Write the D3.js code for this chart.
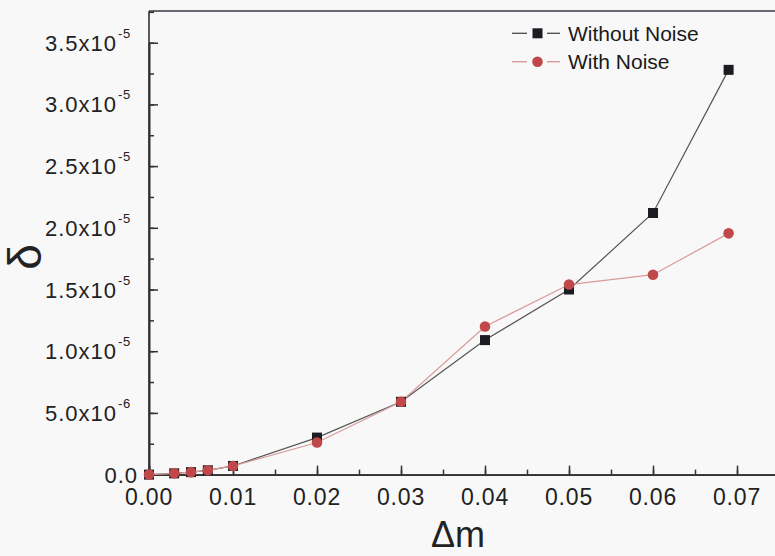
<!DOCTYPE html>
<html><head><meta charset="utf-8">
<script src="https://cdn.jsdelivr.net/npm/d3@7"></script>
<style>body{margin:0;background:#f8f8f8;} svg{display:block;}</style>
</head><body><svg id="c" width="775" height="556"></svg>
<script>
const dm = [0.000, 0.003, 0.005, 0.007, 0.010, 0.020, 0.030, 0.040, 0.050, 0.060, 0.069];
const withoutNoise = [0.0, 0.10e-6, 0.20e-6, 0.35e-6, 0.70e-6, 3.0e-6, 5.9e-6, 1.09e-5, 1.50e-5, 2.12e-5, 3.28e-5];
const withNoise    = [0.0, 0.10e-6, 0.20e-6, 0.35e-6, 0.70e-6, 2.6e-6, 5.9e-6, 1.20e-5, 1.54e-5, 1.62e-5, 1.955e-5];
const xTicks = [0, 0.01, 0.02, 0.03, 0.04, 0.05, 0.06, 0.07];
const xTickLabels = ["0.00","0.01","0.02","0.03","0.04","0.05","0.06","0.07"];
const yTicks = [0, 5e-6, 1e-5, 1.5e-5, 2e-5, 2.5e-5, 3e-5, 3.5e-5];
const yTickMant = ["0.0","5.0x10","1.0x10","1.5x10","2.0x10","2.5x10","3.0x10","3.5x10"];
const yTickExp = ["","-6","-5","-5","-5","-5","-5","-5"];
const legendLabels = ["Without Noise","With Noise"];

const svg = d3.select("#c");
const x = d3.scaleLinear().domain([0, 0.075]).range([149, 779]);
const y = d3.scaleLinear().domain([0, 3.5e-5]).range([474.6, 42.7]);
const axisCol = "#333";
const font = "Liberation Sans, Arial, sans-serif";

// frame: top line
svg.append("line").attr("x1", 149).attr("x2", 775).attr("y1", 11).attr("y2", 11)
  .attr("stroke", "#3a3a48").attr("stroke-width", 1.6);

// x axis
const xMinor = d3.range(0, 0.0751, 0.005);
const gx = svg.append("g").attr("transform", `translate(0,${y(0)})`);
gx.call(d3.axisBottom(x).tickValues(xMinor).tickSize(-5).tickFormat(""));
gx.append("g").call(d3.axisBottom(x).tickValues(xTicks).tickSize(-9).tickFormat(""));
gx.selectAll("path.domain").attr("stroke", axisCol).attr("stroke-width", 1.6);
gx.selectAll("line").attr("stroke", axisCol).attr("stroke-width", 1.5);

// y axis
const yMinor = d3.range(0, 3.76e-5, 2.5e-6);
const gy = svg.append("g").attr("transform", `translate(149,0)`);
gy.call(d3.axisLeft(y).tickValues(yMinor).tickSize(-5).tickFormat("").tickSizeOuter(0));
gy.append("g").call(d3.axisLeft(y).tickValues(yTicks).tickSize(-9).tickFormat("").tickSizeOuter(0));
gy.selectAll("path.domain").attr("stroke", axisCol).attr("stroke-width", 1.6);
gy.selectAll("line").attr("stroke", axisCol).attr("stroke-width", 1.5);
svg.append("line").attr("x1",149).attr("x2",149).attr("y1",11).attr("y2",y(0))
  .attr("stroke", axisCol).attr("stroke-width", 1.6);

// x tick labels
svg.append("g").selectAll("text").data(xTicks).join("text")
  .attr("x", d => x(d)).attr("y", 505)
  .attr("text-anchor", "middle")
  .attr("font-family", font)
  .attr("font-size", 23).attr("letter-spacing", 0.8).attr("fill", "#222")
  .text((d, i) => xTickLabels[i]);

// y tick labels
const yl = svg.append("g").selectAll("text").data(yTicks).join("text")
  .attr("y", d => y(d) + 8)
  .attr("font-family", font)
  .attr("font-size", 22).attr("letter-spacing", 1).attr("fill", "#222");
yl.each(function(d, i) {
  const t = d3.select(this);
  if (yTickExp[i] === "") {
    t.attr("x", 138).attr("text-anchor", "end").text(yTickMant[i]);
  } else {
    t.attr("x", 45);
    t.append("tspan").text(yTickMant[i]);
    t.append("tspan").attr("dx", 1).attr("dy", -13).attr("font-size", 13).attr("letter-spacing", 0.5).text(yTickExp[i]);
  }
});

// axis titles
svg.append("text").attr("x", 458).attr("y", 547).attr("text-anchor", "middle")
  .attr("font-family", font).attr("font-size", 36).attr("fill", "#222")
  .text("Δm");
svg.append("text").attr("transform", "translate(41,257) rotate(-90)").attr("text-anchor", "middle")
  .attr("font-family", font).attr("font-size", 46).attr("fill", "#222")
  .text("δ");

// lines
const line = d3.line().x(d => x(d[0])).y(d => y(d[1]));
const ptsA = dm.map((d, i) => [d, withoutNoise[i]]);
const ptsB = dm.map((d, i) => [d, withNoise[i]]);
svg.append("path").datum(ptsA).attr("d", line).attr("fill", "none").attr("stroke", "#555").attr("stroke-width", 1.2);
svg.append("path").datum(ptsB).attr("d", line).attr("fill", "none").attr("stroke", "#d99a9a").attr("stroke-width", 1.2);

// markers
const sq = 10;
svg.append("g").selectAll("rect").data(ptsA).join("rect")
  .attr("x", d => x(d[0]) - sq/2).attr("y", d => y(d[1]) - sq/2)
  .attr("width", sq).attr("height", sq).attr("fill", "#1c1c22");
svg.append("g").selectAll("circle").data(ptsB).join("circle")
  .attr("cx", d => x(d[0])).attr("cy", d => y(d[1])).attr("r", 5.3)
  .attr("fill", "#c0484a");

// legend
const lg = svg.append("g");
const rows = [33.3, 61.7];
const segs = [[512, 527], [547, 560]];
const lcol = ["#555", "#d99a9a"];
rows.forEach((r, i) => {
  segs.forEach(s => lg.append("line").attr("x1", s[0]).attr("x2", s[1]).attr("y1", r).attr("y2", r)
    .attr("stroke", lcol[i]).attr("stroke-width", 1.4));
});
lg.append("rect").attr("x", 537.5 - sq/2).attr("y", rows[0] - sq/2).attr("width", sq).attr("height", sq).attr("fill", "#1c1c22");
lg.append("circle").attr("cx", 537.5).attr("cy", rows[1]).attr("r", 5.3).attr("fill", "#c0484a");
lg.selectAll("text").data(legendLabels).join("text")
  .attr("x", 568).attr("y", (d, i) => rows[i] + 7.5)
  .attr("font-family", font).attr("font-size", 21).attr("fill", "#1a1a1a")
  .text(d => d);
</script></body></html>
